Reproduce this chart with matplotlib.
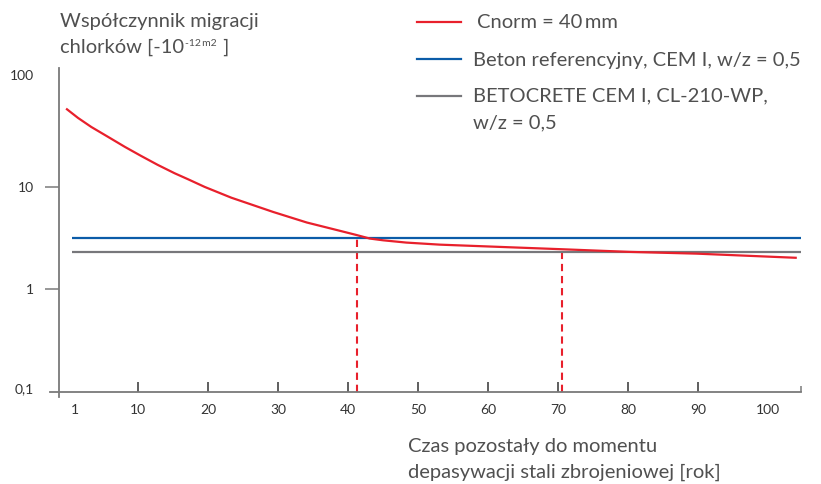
import numpy as np
import matplotlib
matplotlib.use("Agg")
import matplotlib.pyplot as plt
from matplotlib.lines import Line2D
from matplotlib.ticker import NullLocator, FixedLocator
from matplotlib.transforms import Affine2D, ScaledTranslation

plt.rcParams['font.family'] = ['Lato', 'DejaVu Sans']

# data
years = [-0.3, 1.4, 3.3, 5.7, 8.1, 10.4, 12.8, 15.2, 17.1, 19.5, 23.3, 29.3, 34.1,
         38.8, 41.2, 43.1, 45.0, 48.3, 53.1, 70.7, 80.2, 89.8, 104.1]
cnorm = [58.2, 47.2, 38.5, 30.8, 24.6, 20.1, 16.4, 13.6, 11.9, 10.0, 7.85, 5.69, 4.49,
         3.73, 3.39, 3.13, 3.01, 2.86, 2.73, 2.46, 2.32, 2.23, 2.03]
x_range = [0.6, 104.7]
beton_ref = 3.14
betocrete = 2.29
cross_x = [41.3, 70.6]
cross_y = [3.37, 2.46]

xticks = [1, 10, 20, 30, 40, 50, 60, 70, 80, 90, 100]
yticks = [0.1, 1, 10, 100]
ylabels = ['0,1', '1', '10', '100']

labels = ['Cnorm = 40\u2009mm', 'Beton referencyjny, CEM I, w/z = 0,5',
          'BETOCRETE CEM I, CL-210-WP,', 'w/z = 0,5']
red = '#e8202c'
blue = '#0b5ca8'
grey = '#77777b'
axc = '#7a7a7a'
txt = '#505050'
FS = 14.5

W, H = 821, 484
fig = plt.figure(figsize=(W / 100, H / 100), dpi=100)
ax = fig.add_axes([50 / W, (H - 391.7) / H, 751 / W, (391.7 - 68) / H])

ax.plot(years, cnorm, color=red, lw=1.6, solid_capstyle='butt', zorder=4)
ax.hlines(beton_ref, x_range[0], x_range[1], color=blue, lw=1.6, zorder=3)
ax.hlines(betocrete, x_range[0], x_range[1], color=grey, lw=1.6, zorder=3)
ax.vlines(cross_x, 0.1, cross_y, color=red, lw=1.5, linestyles=(0, (3.5, 2.3)), zorder=2)

ax.set_yscale('log')
ax.set_xlim(-2.6, 104.7)
ax.set_ylim(0.1, 145)
ax.yaxis.set_minor_locator(NullLocator())
ax.set_yticks(yticks)
ax.set_yticklabels(ylabels)
ax.set_xticks(xticks)
ax.set_xticklabels([str(t) for t in xticks])
ax.xaxis.set_minor_locator(FixedLocator([104.7]))

for s in ['top', 'right']:
    ax.spines[s].set_visible(False)
ax.spines['left'].set_position(('data', -1.3))
ax.spines['left'].set_bounds(0.089, 145)
for s in ['left', 'bottom']:
    ax.spines[s].set_color(axc)
    ax.spines[s].set_linewidth(1.3)

ax.tick_params(axis='y', direction='out', length=10, width=1.1, color=axc,
               labelsize=10, labelcolor='#333333', pad=8)
ax.tick_params(axis='x', which='major', direction='in', length=7, width=1.1, color='#333333',
               labelsize=10, labelcolor='#333333', pad=9)
ax.tick_params(axis='x', which='minor', direction='in', length=4, width=1.1, color=axc)

yt = ax.yaxis.get_major_ticks()
for i in (0, 3):
    yt[i].tick1line.set_visible(False)
xt = ax.xaxis.get_major_ticks()
for i in (0, 10):
    xt[i].tick1line.set_visible(False)

# nudge the outer y labels like in the source
for lab, dy in zip(ax.get_yticklabels(), [4, 0, 0, 10]):
    lab.set_transform(lab.get_transform() + ScaledTranslation(0, dy / 100, fig.dpi_scale_trans))

# pixel transform (origin top-left)
px = Affine2D().scale(1 / 100, -1 / 100).translate(0, H / 100) + fig.dpi_scale_trans
tkw = dict(transform=px, fontsize=FS, color=txt, va='baseline', ha='left')

# y axis title
fig.text(60, 27, 'Współczynnik migracji', **tkw)
t1 = fig.text(60, 53, 'chlorków [-10', **tkw)
t2 = ax.annotate('-12\u2009m2', xy=(1, 46.5), xycoords=(t1, px), xytext=(1, 0),
                 textcoords='offset pixels', fontsize=7.5, color=txt,
                 va='baseline', ha='left', annotation_clip=False)
ax.annotate(' ]', xy=(1, 53), xycoords=(t2, px), xytext=(1, 0),
            textcoords='offset pixels', fontsize=FS, color=txt,
            va='baseline', ha='left', annotation_clip=False)

# x axis title
fig.text(408, 452, 'Czas pozostały do momentu', **tkw)
fig.text(408, 478, 'depasywacji stali zbrojeniowej [rok]', **tkw)

# legend
leg_colors = [red, blue, grey]
leg_y = [22, 59.3, 96]
leg_base = [28.3, 65.7, 101.7, 128.3]
leg_tx = [477, 473, 473, 473]
for c, y in zip(leg_colors, leg_y):
    fig.add_artist(Line2D([417, 461], [y, y], transform=px, color=c, lw=1.6))
for lab, yb, tx in zip(labels, leg_base, leg_tx):
    fig.text(tx, yb, lab, **tkw)

fig.savefig('out.png', dpi=100)
